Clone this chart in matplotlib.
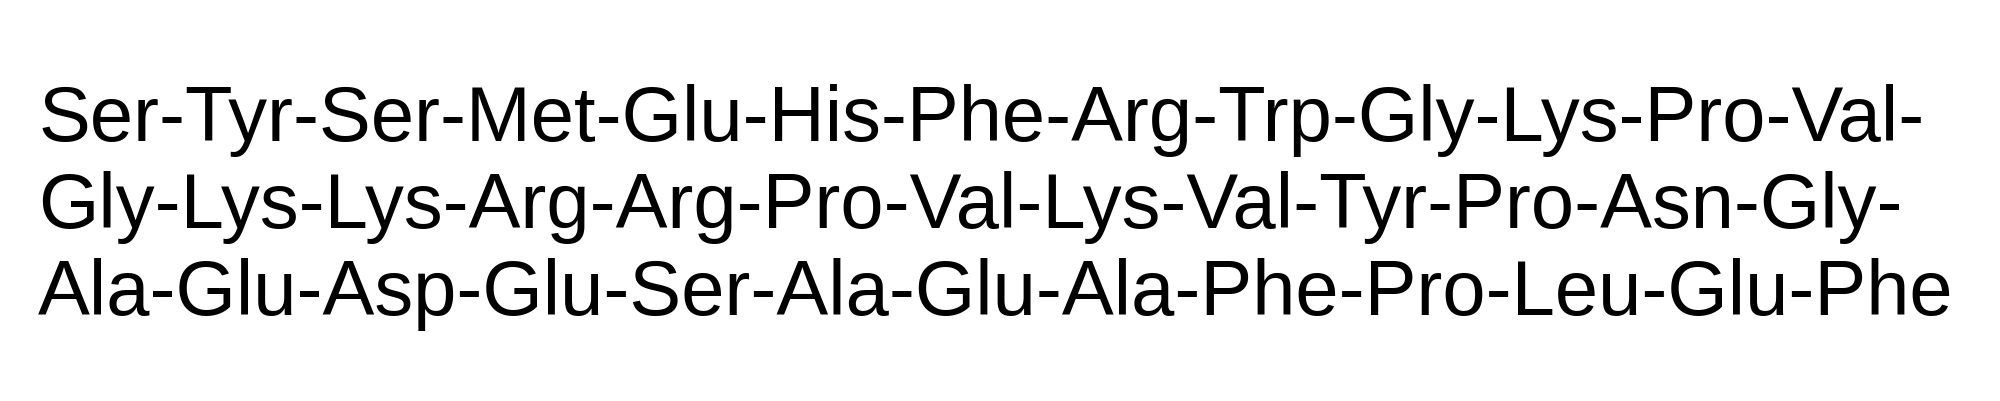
import matplotlib
matplotlib.use('Agg')
import matplotlib.pyplot as plt

# peptide sequence, split into the three printed lines
line1 = ['Ser', 'Tyr', 'Ser', 'Met', 'Glu', 'His', 'Phe', 'Arg', 'Trp', 'Gly', 'Lys', 'Pro', 'Val']
line2 = ['Gly', 'Lys', 'Lys', 'Arg', 'Arg', 'Pro', 'Val', 'Lys', 'Val', 'Tyr', 'Pro', 'Asn', 'Gly']
line3 = ['Ala', 'Glu', 'Asp', 'Glu', 'Ser', 'Ala', 'Glu', 'Ala', 'Phe', 'Pro', 'Leu', 'Glu', 'Phe']

lines = [
    '-'.join(line1) + '-',
    '-'.join(line2) + '-',
    '-'.join(line3),
]

fig = plt.figure(figsize=(20, 4.02), dpi=100)
ax = fig.add_axes([0, 0, 1, 1])
ax.set_xlim(0, 2000)
ax.set_ylim(402, 0)
ax.axis('off')

baselines = [141, 228, 315]
for text, y in zip(lines, baselines):
    ax.text(38, y, text, fontsize=56, family='Liberation Sans',
            color='black', ha='left', va='baseline')

fig.savefig('out.png', dpi=100, facecolor='white')
